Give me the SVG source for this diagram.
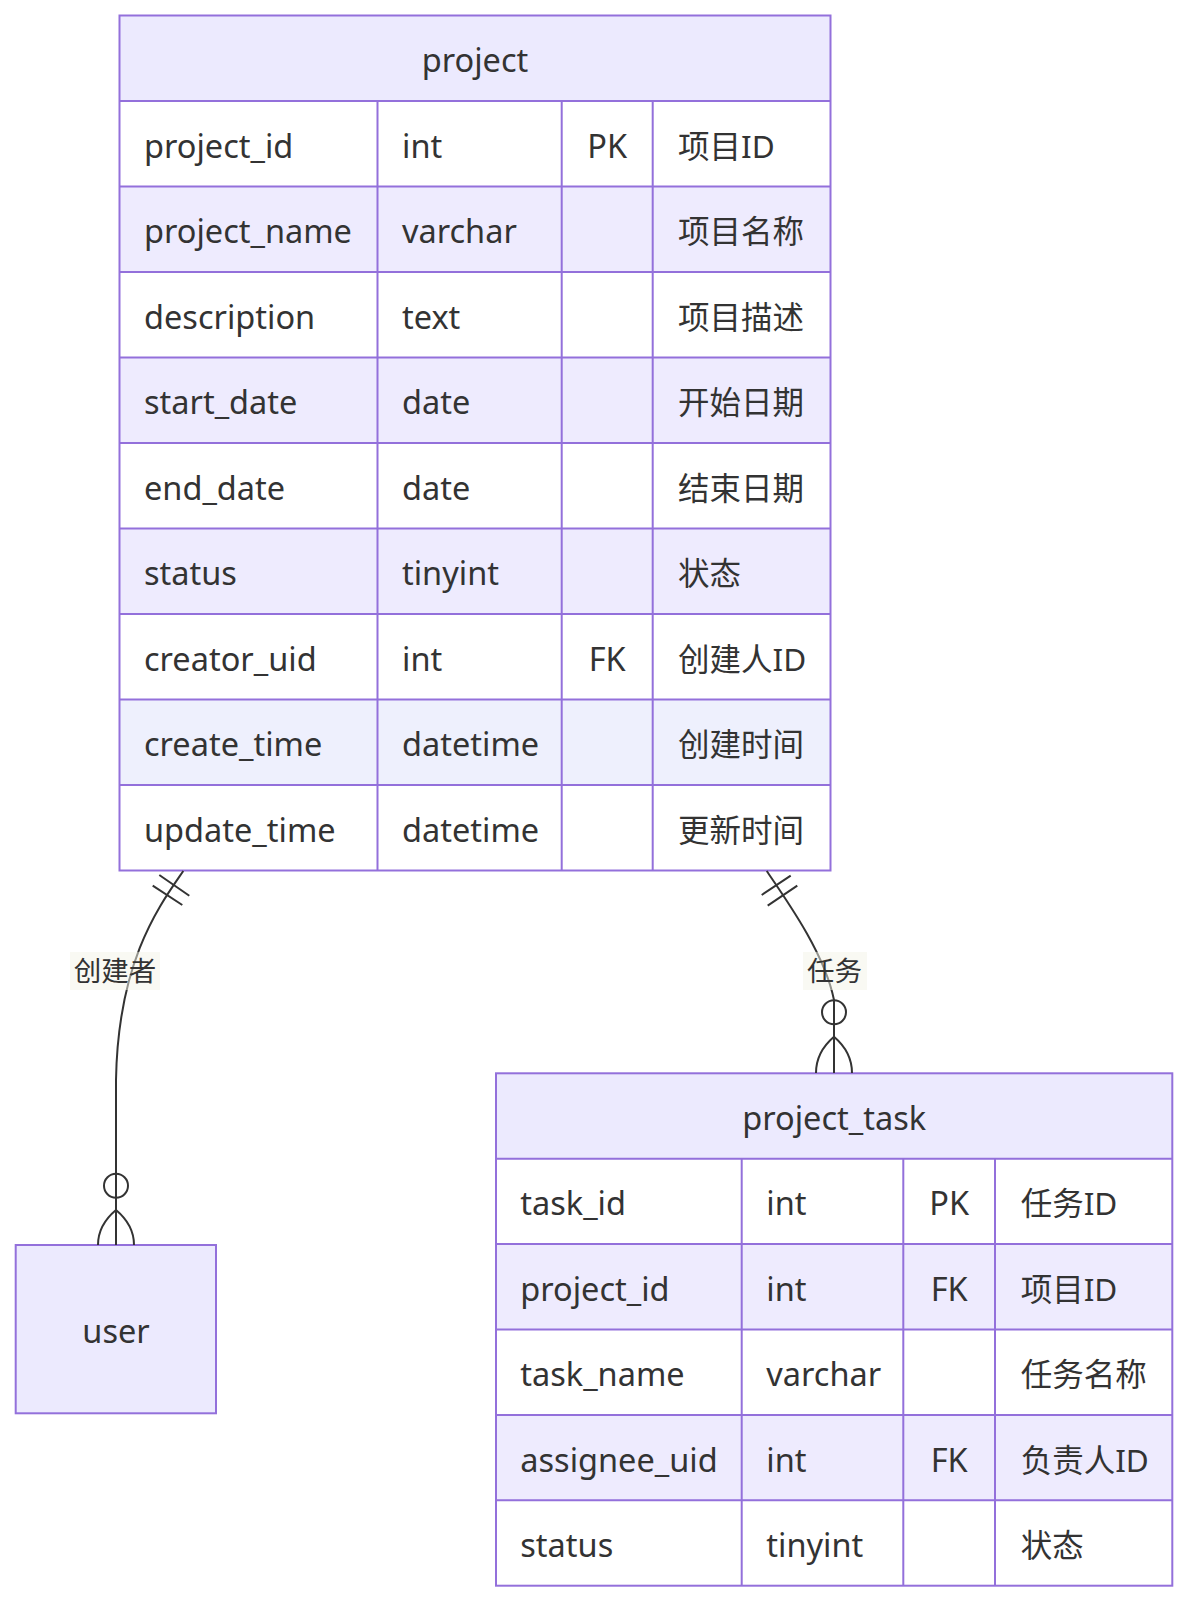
<svg xmlns="http://www.w3.org/2000/svg" width="1188" height="1602" viewBox="0 0 1188 1602">
<style>
  .box { stroke: #9370DB; stroke-width: 2; }
  .hdr { fill: #ECEAFE; }
  .odd { fill: #FFFFFF; }
  .even { fill: #EEEBFE; }
  .div { stroke: #9370DB; stroke-width: 2; fill: none; }
  .t { font-family: "Noto Sans", "Noto Sans CJK SC", sans-serif; font-size: 32.5px; fill: #333333; }
  .z { font-size: 31.5px; }
  .c { text-anchor: middle; }
  .rel { fill: none; stroke: #333333; stroke-width: 2; }
  .lbl { font-family: "Noto Sans", "Noto Sans CJK SC", sans-serif; font-size: 27.5px; fill: #333333; text-anchor: middle; }
  .lblbg { fill: #F4F4E8; opacity: 0.5; }
</style>
<rect width="1188" height="1602" fill="#FFFFFF"/>

<g id="project">
  <rect class="hdr" x="119.5" y="15.5" width="711" height="85.5"/>
  <rect class="odd" x="119.5" y="101" width="711" height="85.5"/>
  <rect class="even" x="119.5" y="186.5" width="711" height="85.5"/>
  <rect class="odd" x="119.5" y="272" width="711" height="85.5"/>
  <rect class="even" x="119.5" y="357.5" width="711" height="85.5"/>
  <rect class="odd" x="119.5" y="443" width="711" height="85.5"/>
  <rect class="even" x="119.5" y="528.5" width="711" height="85.5"/>
  <rect class="odd" x="119.5" y="614" width="711" height="85.5"/>
  <rect class="even" x="119.5" y="699.5" width="711" height="85.5" style="fill:#EEF0FD"/>
  <rect class="odd" x="119.5" y="785" width="711" height="85.5"/>
  <path class="div" d="M119.5,101H830.5M119.5,186.5H830.5M119.5,272H830.5M119.5,357.5H830.5M119.5,443H830.5M119.5,528.5H830.5M119.5,614H830.5M119.5,699.5H830.5M119.5,785H830.5M377.5,101V870.5M561.7,101V870.5M652.7,101V870.5"/>
  <rect class="box" fill="none" x="119.5" y="15.5" width="711" height="855"/>
  <text class="t c" x="475" y="72">project</text>
  <text class="t" x="144" y="157.5">project_id</text>
  <text class="t" x="402" y="157.5">int</text>
  <text class="t c" x="607.2" y="157.5">PK</text>
  <text class="t z" x="678" y="157.5">项目ID</text>
  <text class="t" x="144" y="243">project_name</text>
  <text class="t" x="402" y="243">varchar</text>
  <text class="t z" x="678" y="243">项目名称</text>
  <text class="t" x="144" y="328.5">description</text>
  <text class="t" x="402" y="328.5">text</text>
  <text class="t z" x="678" y="328.5">项目描述</text>
  <text class="t" x="144" y="414">start_date</text>
  <text class="t" x="402" y="414">date</text>
  <text class="t z" x="678" y="414">开始日期</text>
  <text class="t" x="144" y="499.5">end_date</text>
  <text class="t" x="402" y="499.5">date</text>
  <text class="t z" x="678" y="499.5">结束日期</text>
  <text class="t" x="144" y="585">status</text>
  <text class="t" x="402" y="585">tinyint</text>
  <text class="t z" x="678" y="585">状态</text>
  <text class="t" x="144" y="670.5">creator_uid</text>
  <text class="t" x="402" y="670.5">int</text>
  <text class="t c" x="607.2" y="670.5">FK</text>
  <text class="t z" x="678" y="670.5">创建人ID</text>
  <text class="t" x="144" y="756">create_time</text>
  <text class="t" x="402" y="756">datetime</text>
  <text class="t z" x="678" y="756">创建时间</text>
  <text class="t" x="144" y="841.5">update_time</text>
  <text class="t" x="402" y="841.5">datetime</text>
  <text class="t z" x="678" y="841.5">更新时间</text>
</g>

<g id="user">
  <rect class="box" fill="#ECEAFE" x="15.7" y="1245" width="200.3" height="168.3"/>
  <text class="t c" x="116" y="1343">user</text>
</g>

<g id="project_task">
  <rect class="hdr" x="496" y="1073.3" width="676.3" height="85.4"/>
  <rect class="odd" x="496" y="1158.7" width="676.3" height="85.4"/>
  <rect class="even" x="496" y="1244.1" width="676.3" height="85.4"/>
  <rect class="odd" x="496" y="1329.5" width="676.3" height="85.4"/>
  <rect class="even" x="496" y="1414.9" width="676.3" height="85.4"/>
  <rect class="odd" x="496" y="1500.3" width="676.3" height="85.4"/>
  <path class="div" d="M496,1158.7H1172.3M496,1244.1H1172.3M496,1329.5H1172.3M496,1414.9H1172.3M496,1500.3H1172.3M741.7,1158.7V1585.7M903.3,1158.7V1585.7M995,1158.7V1585.7"/>
  <rect class="box" fill="none" x="496" y="1073.3" width="676.3" height="512.4"/>
  <text class="t c" x="834.2" y="1130">project_task</text>
  <text class="t" x="520.3" y="1215">task_id</text>
  <text class="t" x="766.3" y="1215">int</text>
  <text class="t c" x="949.2" y="1215">PK</text>
  <text class="t z" x="1020.7" y="1215">任务ID</text>
  <text class="t" x="520.3" y="1300.5">project_id</text>
  <text class="t" x="766.3" y="1300.5">int</text>
  <text class="t c" x="949.2" y="1300.5">FK</text>
  <text class="t z" x="1020.7" y="1300.5">项目ID</text>
  <text class="t" x="520.3" y="1386">task_name</text>
  <text class="t" x="766.3" y="1386">varchar</text>
  <text class="t z" x="1020.7" y="1386">任务名称</text>
  <text class="t" x="520.3" y="1471.5">assignee_uid</text>
  <text class="t" x="766.3" y="1471.5">int</text>
  <text class="t c" x="949.2" y="1471.5">FK</text>
  <text class="t z" x="1020.7" y="1471.5">负责人ID</text>
  <text class="t" x="520.3" y="1557">status</text>
  <text class="t" x="766.3" y="1557">tinyint</text>
  <text class="t z" x="1020.7" y="1557">状态</text>
</g>

<g id="connectors">
  <g id="rel-creator">
    <path class="rel" d="M183.3,871 C160,905 118,960 116,1080 L116,1245"/>
    <path class="rel" d="M159.3,875 L189.3,895.7 M152.7,885.7 L182.3,905"/>
    <circle class="rel" cx="116" cy="1185.7" r="12" fill="#FFFFFF"/>
    <path class="rel" d="M116,1210 L116,1245 M116,1210 Q98,1225 98,1245 M116,1210 Q134,1225 134,1245"/>
    <rect class="lblbg" x="70" y="952" width="90" height="38"/>
    <text class="lbl" x="115" y="981">创建者</text>
  </g>
  <g id="rel-task">
    <path class="rel" d="M766.7,871 C790,905 825,955 834,1000 L834,1073"/>
    <path class="rel" d="M761.7,895 L790.7,875.7 M767.7,905.7 L797.3,885.7"/>
    <circle class="rel" cx="834" cy="1012.3" r="12" fill="#FFFFFF"/>
    <path class="rel" d="M834,1036.7 L834,1073 M834,1036.7 Q816,1052 816,1073 M834,1036.7 Q852,1052 852,1073"/>
    <rect class="lblbg" x="803" y="952" width="64" height="38"/>
    <text class="lbl" x="834.5" y="981">任务</text>
  </g>
</g>
</svg>
